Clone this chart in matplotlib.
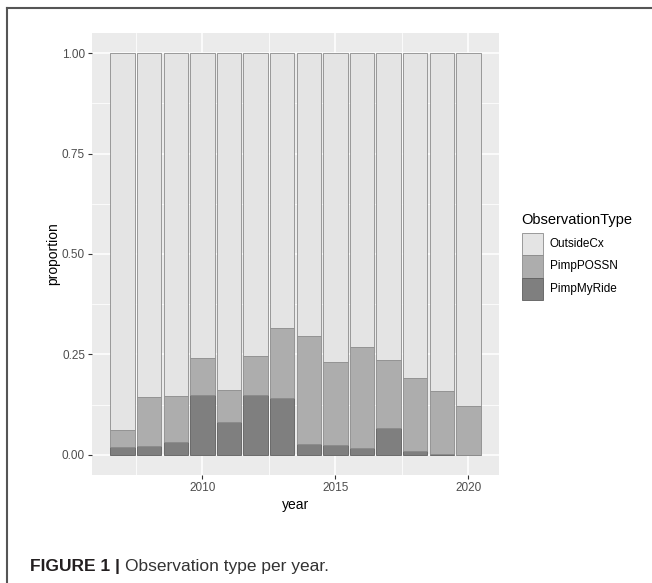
import matplotlib
matplotlib.use("Agg")
import matplotlib.pyplot as plt
from matplotlib.patches import Rectangle
from matplotlib.lines import Line2D

# ==========================================
# DATA (proportions)
# ==========================================
years = [2007, 2008, 2009, 2010, 2011, 2012, 2013,
         2014, 2015, 2016, 2017, 2018, 2019, 2020]
pimp_my_ride = [0.020, 0.022, 0.032, 0.148, 0.082, 0.148, 0.141,
                0.027, 0.025, 0.017, 0.066, 0.010, 0.003, 0.000]
pimp_possn = [0.042, 0.121, 0.114, 0.094, 0.080, 0.097, 0.174,
              0.269, 0.205, 0.252, 0.169, 0.181, 0.156, 0.121]
outside_cx = [0.938, 0.857, 0.854, 0.758, 0.838, 0.755, 0.685,
              0.704, 0.770, 0.731, 0.765, 0.809, 0.841, 0.879]

series_names = ["OutsideCx", "PimpPOSSN", "PimpMyRide"]
y_ticks = [0.0, 0.25, 0.5, 0.75, 1.0]
y_tick_labels = ["0.00", "0.25", "0.50", "0.75", "1.00"]
x_ticks = [2010, 2015, 2020]

# ==========================================
# STYLE
# ==========================================
W, H = 652, 583
DPI = 100
color_outside = '#e4e4e4'
color_possn = '#adadad'
color_ride = '#7f7f7f'
edge_col = '#8c8c8c'
edge_dark = '#5e5e5e'
panel_bg = '#ebebeb'
plt.rcParams['font.family'] = ['Liberation Sans', 'DejaVu Sans']


def fx(px):
    return px / W


def fy(py):
    return 1 - py / H


fig = plt.figure(figsize=(W / DPI, H / DPI), dpi=DPI)
fig.patch.set_facecolor('white')

# panel placement in pixels -> figure fraction
left, right, top, bottom = 92, 499, 33, 475
ax = fig.add_axes([fx(left), fy(bottom), (right - left) / W, (bottom - top) / H])
ax.set_facecolor(panel_bg)
for s in ax.spines.values():
    s.set_visible(False)

# stacked bars: PimpMyRide at the bottom, OutsideCx on top
bar_w = 0.92
ax.bar(years, pimp_my_ride, width=bar_w, color=color_ride,
       edgecolor=edge_dark, linewidth=0.6, zorder=3)
ax.bar(years, pimp_possn, width=bar_w, bottom=pimp_my_ride, color=color_possn,
       edgecolor=edge_col, linewidth=0.6, zorder=3)
bottom_out = [r + p for r, p in zip(pimp_my_ride, pimp_possn)]
ax.bar(years, outside_cx, width=bar_w, bottom=bottom_out, color=color_outside,
       edgecolor=edge_col, linewidth=0.6, zorder=3)

ax.set_xlim(2005.85, 2021.15)
ax.set_ylim(-0.05, 1.05)

ax.set_yticks(y_ticks)
ax.set_yticklabels(y_tick_labels)
ax.set_xticks(x_ticks)
ax.set_xticks([2007.5, 2012.5, 2017.5], minor=True)
ax.set_yticks([0.125, 0.375, 0.625, 0.875], minor=True)
ax.tick_params(axis='both', which='major', length=3, width=0.8, color='#333333',
               labelsize=8.5, labelcolor='#4d4d4d', pad=2)
ax.tick_params(axis='both', which='minor', length=0)
ax.grid(True, which='major', color='white', linewidth=1.1, zorder=0)
ax.grid(True, which='minor', color='white', linewidth=0.55, zorder=0)
ax.set_axisbelow(True)

# axis titles
fig.text(fx(296), fy(505), 'year', fontsize=10, ha='center', va='center', color='black')
fig.text(fx(53), fy(254), 'proportion', fontsize=10, rotation=90,
         ha='center', va='center', color='black')

# legend, drawn by hand to get ggplot-style touching keys
fig.text(fx(521), fy(220), 'ObservationType', fontsize=10.5,
         ha='left', va='center', color='black')
key_colors = [color_outside, color_possn, color_ride]
key_edges = [edge_col, edge_col, edge_dark]
key_top = 233
key_h = 22.3
for i, (name, fc, ec) in enumerate(zip(series_names, key_colors, key_edges)):
    y0 = key_top + i * key_h
    fig.add_artist(Rectangle((fx(522), fy(y0 + key_h)), 21 / W, key_h / H,
                             facecolor=fc, edgecolor=ec, linewidth=0.6))
    fig.text(fx(550), fy(y0 + key_h / 2), name, fontsize=8.5,
             ha='left', va='center', color='black')

# caption
renderer = fig.canvas.get_renderer()
t1 = fig.text(fx(30), fy(566), 'FIGURE 1 | ', fontsize=12.5, fontweight='bold',
              ha='left', va='center', color='#231f20')
bb = t1.get_window_extent(renderer=renderer)
fig.text(bb.x1 / W, fy(566), 'Observation type per year.', fontsize=12.5,
         ha='left', va='center', color='#333333')

# page border (top and left edges)
fig.add_artist(Line2D([fx(7), 1], [fy(8), fy(8)], color='#555555', linewidth=1.5))
fig.add_artist(Line2D([fx(7), fx(7)], [0, fy(8)], color='#555555', linewidth=1.5))

plt.savefig('out.png', dpi=DPI)
